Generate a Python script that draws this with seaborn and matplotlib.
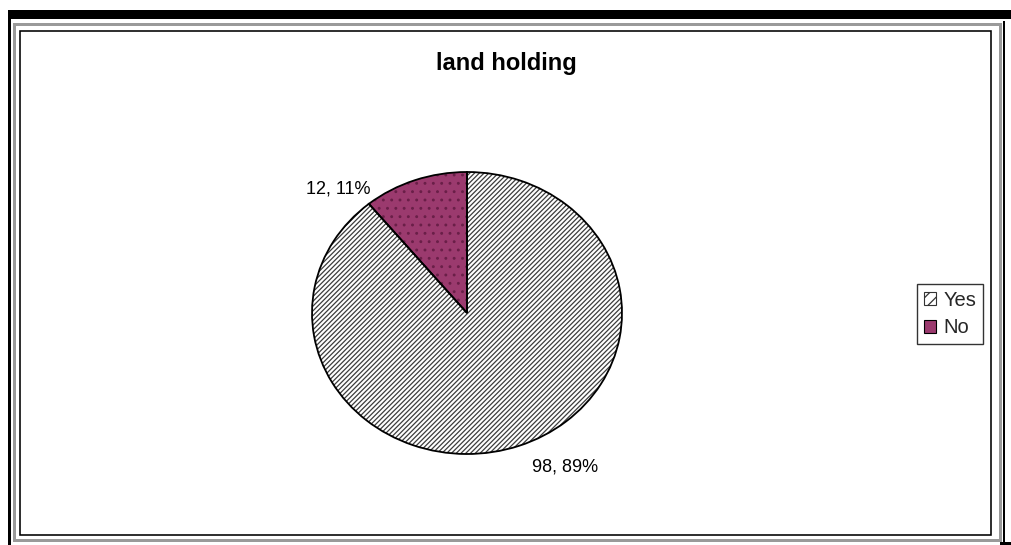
import matplotlib
matplotlib.use("Agg")
import matplotlib.pyplot as plt
from matplotlib.patches import Rectangle, Patch
import seaborn as sns

# ---- data ----
title = "land holding"
categories = ["Yes", "No"]
counts = [98, 12]
percents = [89, 11]

sns.set_theme(style="white")
plt.rcParams['font.family'] = ['Liberation Sans', 'DejaVu Sans']
plt.rcParams['hatch.linewidth'] = 0.9

W, H = 1011, 545
fig = plt.figure(figsize=(W / 100, H / 100), dpi=100)
fig.patch.set_facecolor("white")


def fx(x):
    return x / W


def fy(y):
    return 1 - y / H


def rect_fill(x0, y0, x1, y1, color):
    fig.add_artist(Rectangle((fx(x0), fy(y1)), fx(x1) - fx(x0), fy(y0) - fy(y1),
                             transform=fig.transFigure, facecolor=color,
                             edgecolor="none", zorder=0))


def rect_line(x0, y0, x1, y1, color, lw_px):
    fig.add_artist(Rectangle((fx(x0), fy(y1)), fx(x1) - fx(x0), fy(y0) - fy(y1),
                             transform=fig.transFigure, facecolor="none",
                             edgecolor=color, linewidth=lw_px * 0.72, zorder=0))


# outer frame decorations
rect_fill(8, 10, W, 19, "black")
rect_fill(8, 10, 11, H, "black")
rect_line(13.5, 24, 1000, 540, "#9a9a9a", 3)
rect_line(20, 31, 991, 535, "black", 1.6)
rect_fill(1003, 21, 1005, H, "black")
rect_fill(1000, 542, W, H, "black")

# pie axes (elliptical, as in the reference)
cx, cy, rx, ry = 467, 313, 155, 141
ax = fig.add_axes([fx(cx - rx), fy(cy + ry), 2 * rx / W, 2 * ry / H])
fill_colors = ["white", "#9b3a6e"]
hatch_colors = ["#3c3c3c", "#6a1f48"]
hatches = ["///////", ".."]
wedges, _ = ax.pie(counts, colors=fill_colors, startangle=90, counterclock=False,
                   wedgeprops=dict(linewidth=0))
for w, hc, ht in zip(wedges, hatch_colors, hatches):
    w.set_hatch(ht)
    w.set_edgecolor(hc)
outline, _ = ax.pie(counts, colors=["none", "none"], startangle=90, counterclock=False,
                    wedgeprops=dict(linewidth=1.3, edgecolor="black", fill=False))
ax.set_aspect("auto")
ax.set_xlim(-1.0, 1.0)
ax.set_ylim(-1.0, 1.0)
ax.axis("off")

# data labels
label_pos = [(565, 467), (338, 189)]
for (px_, py_), c, p in zip(label_pos, counts, percents):
    fig.text(fx(px_), fy(py_), f"{c}, {p}%", ha="center", va="center",
             fontsize=13, color="black")

fig.text(fx(506), fy(63), title, ha="center", va="center", fontsize=17,
         fontweight="bold", color="black")

# legend
handles = [Patch(facecolor="white", edgecolor="#333333", hatch="///", linewidth=0.8),
           Patch(facecolor="#9b3a6e", edgecolor="black", linewidth=0.8)]
leg = fig.legend(handles, categories, loc="center left",
                 bbox_to_anchor=(fx(917), fy(314)), frameon=True, fancybox=False,
                 edgecolor="black", fontsize=14.5, handlelength=0.6, handleheight=0.6,
                 handletextpad=0.35, borderpad=0.35, labelspacing=0.42,
                 borderaxespad=0)
leg.get_frame().set_linewidth(1.0)

fig.savefig("out.png", dpi=100, facecolor="white")
